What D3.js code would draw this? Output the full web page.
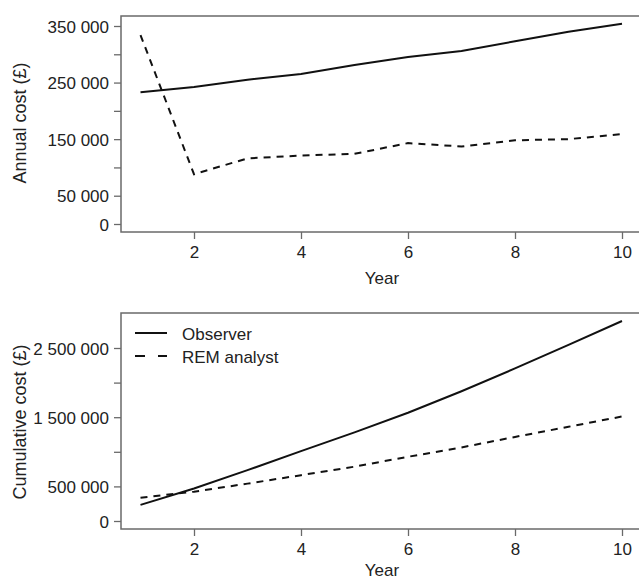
<!DOCTYPE html>
<html><head><meta charset="utf-8">
<script src="https://cdn.jsdelivr.net/npm/d3@7"></script>
<style>body{margin:0;background:#fff}svg{display:block}text{font-family:"Liberation Sans",Arial,sans-serif;fill:#222}</style>
</head><body><svg id="c" width="639" height="581"></svg>
<script>
const years = [1,2,3,4,5,6,7,8,9,10];
const xTicks = [2,4,6,8,10];
const annualObserver = [233000,242000,255000,265000,281000,295000,306000,323000,340000,354000];
const annualREM = [334000,88000,116000,121000,124000,143000,137000,148000,150000,159000];
const cumObserver = [233000,470000,735000,1010000,1280000,1565000,1875000,2205000,2545000,2890000];
const cumREM = [335000,424000,540000,662000,785000,928000,1063000,1215000,1362000,1510000];
const annualTicks = [0,50000,100000,150000,200000,250000,300000,350000];
const annualLabels = [0,50000,150000,250000,350000];
const cumTicks = [0,500000,1000000,1500000,2000000,2500000];
const cumLabels = [0,500000,1500000,2500000];
const seriesNames = ["Observer","REM analyst"];

const svg = d3.select("#c");
const fmt = v => d3.format(",")(v).replace(/,/g," ");
const x = d3.scaleLinear().domain([1,10]).range([140.5,622]);
const axisCol = "#6a6a6a";

function panel(opt){
  const g = svg.append("g");
  const y = d3.scaleLinear().domain(opt.ydom).range(opt.yrange);
  g.append("rect").attr("x",121).attr("y",opt.top).attr("width",522).attr("height",opt.bottom-opt.top)
    .attr("fill","none").attr("stroke",axisCol).attr("stroke-width",1.5);
  const ya = d3.axisLeft(y).tickValues(opt.yticks).tickSize(7).tickPadding(5)
    .tickFormat(v => opt.ylabels.includes(v) ? fmt(v) : "");
  const gy = g.append("g").attr("transform","translate(121,0)").call(ya);
  gy.select(".domain").remove();
  gy.selectAll(".tick line").attr("stroke",axisCol).attr("stroke-width",1.3);
  gy.selectAll(".tick text").attr("font-size",17).attr("fill","#222").attr("dy","0.36em");
  const xa = d3.axisBottom(x).tickValues(xTicks).tickSize(7).tickPadding(7).tickFormat(d3.format("d"));
  const gx = g.append("g").attr("transform",`translate(0,${opt.bottom})`).call(xa);
  gx.select(".domain").remove();
  gx.selectAll(".tick line").attr("stroke",axisCol).attr("stroke-width",1.3);
  gx.selectAll(".tick text").attr("font-size",17).attr("fill","#222");
  g.append("text").attr("x",382).attr("y",opt.yearY).attr("text-anchor","middle").attr("font-size",17).text("Year");
  g.append("text").attr("transform",`translate(26,${opt.titleY}) rotate(-90)`).attr("text-anchor","middle")
    .attr("font-size",18).text(opt.title);
  const line = d3.line().x((d,i)=>x(years[i])).y(d=>y(d));
  g.append("path").datum(opt.s1).attr("d",line).attr("fill","none").attr("stroke","#111").attr("stroke-width",2);
  g.append("path").datum(opt.s2).attr("d",line).attr("fill","none").attr("stroke","#111").attr("stroke-width",2)
    .attr("stroke-dasharray","7,6");
  return g;
}

panel({ydom:[0,350000], yrange:[224,26], top:16, bottom:232, yticks:annualTicks, ylabels:annualLabels,
  s1:annualObserver, s2:annualREM, title:"Annual cost (£)", titleY:123, yearY:284});
const g2 = panel({ydom:[0,2500000], yrange:[521,348], top:313, bottom:529, yticks:cumTicks, ylabels:cumLabels,
  s1:cumObserver, s2:cumREM, title:"Cumulative cost (£)", titleY:422, yearY:576});

const leg = g2.append("g");
seriesNames.forEach((n,i)=>{
  const ly = 333 + i*23;
  leg.append("line").attr("x1",135).attr("x2",167).attr("y1",ly).attr("y2",ly)
    .attr("stroke","#111").attr("stroke-width",2).attr("stroke-dasharray", i ? "10,13" : null);
  leg.append("text").attr("x",182).attr("y",ly+6.5).attr("font-size",17).text(n);
});
</script></body></html>
